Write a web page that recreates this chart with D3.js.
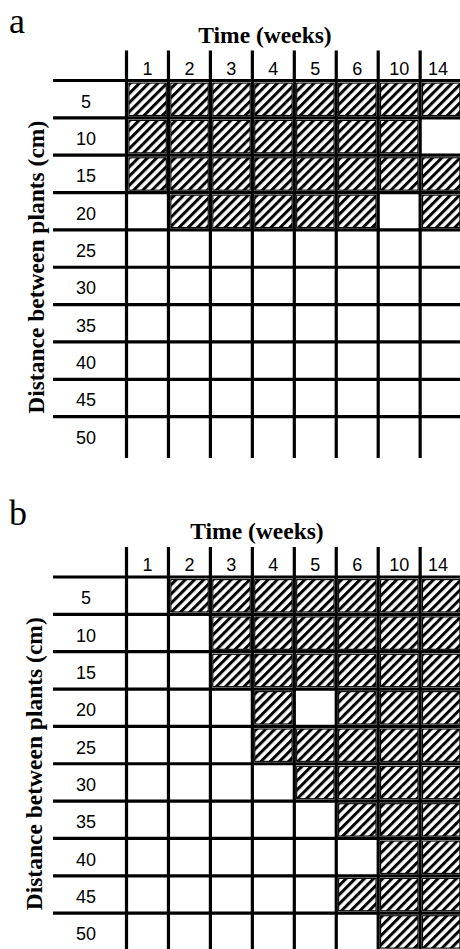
<!DOCTYPE html>
<html>
<head>
<meta charset="utf-8">
<script src="https://cdn.jsdelivr.net/npm/d3@7"></script>
<style>
  html, body { margin: 0; padding: 0; background: #fff; }
  svg { display: block; }
</style>
</head>
<body>
<div id="chart"></div>
<script>
// categories
const weeks = ["1", "2", "3", "4", "5", "6", "10", "14"];
const distances = [5, 10, 15, 20, 25, 30, 35, 40, 45, 50];

// 1 = hatched cell, one row per distance, one column per week
const hatchA = [
  [1, 1, 1, 1, 1, 1, 1, 1],
  [1, 1, 1, 1, 1, 1, 1, 0],
  [1, 1, 1, 1, 1, 1, 1, 1],
  [0, 1, 1, 1, 1, 1, 0, 1],
  [0, 0, 0, 0, 0, 0, 0, 0],
  [0, 0, 0, 0, 0, 0, 0, 0],
  [0, 0, 0, 0, 0, 0, 0, 0],
  [0, 0, 0, 0, 0, 0, 0, 0],
  [0, 0, 0, 0, 0, 0, 0, 0],
  [0, 0, 0, 0, 0, 0, 0, 0]
];
const hatchB = [
  [0, 1, 1, 1, 1, 1, 1, 1],
  [0, 0, 1, 1, 1, 1, 1, 1],
  [0, 0, 1, 1, 1, 1, 1, 1],
  [0, 0, 0, 1, 0, 1, 1, 1],
  [0, 0, 0, 1, 1, 1, 1, 1],
  [0, 0, 0, 0, 1, 1, 1, 1],
  [0, 0, 0, 0, 0, 1, 1, 1],
  [0, 0, 0, 0, 0, 0, 1, 1],
  [0, 0, 0, 0, 0, 1, 1, 1],
  [0, 0, 0, 0, 0, 0, 1, 1]
];

const xTitle = "Time (weeks)";
const yTitle = "Distance between plants (cm)";

const width = 460, height = 949;

const svg = d3.select("#chart").append("svg")
  .attr("width", width)
  .attr("height", height);

// diagonal hatch pattern
svg.append("defs").append("pattern")
  .attr("id", "hatch")
  .attr("patternUnits", "userSpaceOnUse")
  .attr("width", 6.5)
  .attr("height", 6.5)
  .attr("patternTransform", "rotate(45)")
  .append("rect")
  .attr("width", 3)
  .attr("height", 6.5)
  .attr("fill", "#000");

// columns share the same x positions in both panels
const x = d3.scaleBand()
  .domain(weeks)
  .range([126.5, 126.5 + weeks.length * 41.95]);

function drawPanel(letter, hatch, opts) {
  const g = svg.append("g").classed("panel", true);

  const y = d3.scaleBand()
    .domain(distances)
    .range([opts.top, opts.top + distances.length * 37.35]);

  const cells = [];
  distances.forEach((d, i) => weeks.forEach((w, j) => {
    if (hatch[i][j]) cells.push({d, w});
  }));

  // hatched cells
  g.selectAll("rect.cell")
    .data(cells)
    .join("rect")
    .classed("cell", true)
    .attr("x", c => x(c.w) + 2.4)
    .attr("y", c => y(c.d) + 2.6)
    .attr("width", x.bandwidth() - 4.6)
    .attr("height", y.bandwidth() - 5)
    .attr("fill", "url(#hatch)")
    .attr("stroke", "#000")
    .attr("stroke-width", 1.1);

  // vertical grid lines
  g.selectAll("line.v")
    .data(weeks.concat(["end"]))
    .join("line")
    .classed("v", true)
    .attr("x1", w => w === "end" ? x.range()[1] : x(w))
    .attr("x2", w => w === "end" ? x.range()[1] : x(w))
    .attr("y1", opts.top - 30)
    .attr("y2", opts.bottom)
    .attr("stroke", "#000")
    .attr("stroke-width", 3.2);

  // horizontal grid lines
  g.selectAll("line.h")
    .data(distances)
    .join("line")
    .classed("h", true)
    .attr("x1", 53)
    .attr("x2", width)
    .attr("y1", d => y(d))
    .attr("y2", d => y(d))
    .attr("stroke", "#000")
    .attr("stroke-width", 3.2);

  // column labels
  g.selectAll("text.week")
    .data(weeks)
    .join("text")
    .classed("week", true)
    .attr("x", w => x(w) + x.bandwidth() / 2 - (w === "14" ? 3 : 0))
    .attr("y", opts.top - 6)
    .attr("text-anchor", "middle")
    .style("font-family", "'Liberation Sans', Arial, sans-serif")
    .style("font-size", "18px")
    .text(w => w);

  // row labels
  g.selectAll("text.dist")
    .data(distances)
    .join("text")
    .classed("dist", true)
    .attr("x", 86)
    .attr("y", d => y(d) + y.bandwidth() / 2 + 8.5)
    .attr("text-anchor", "middle")
    .style("font-family", "'Liberation Sans', Arial, sans-serif")
    .style("font-size", "18px")
    .text(d => d);

  // panel letter
  g.append("text")
    .attr("x", 9)
    .attr("y", opts.letterY)
    .style("font-family", "'Liberation Serif', 'Times New Roman', serif")
    .style("font-size", "36px")
    .text(letter);

  // x title
  g.append("text")
    .attr("x", opts.titleX)
    .attr("y", opts.top - 38)
    .attr("text-anchor", "middle")
    .style("font-family", "'Liberation Serif', 'Times New Roman', serif")
    .style("font-weight", "bold")
    .style("font-size", "23.5px")
    .text(xTitle);

  // y title
  const yc = (y.range()[0] + y.range()[1]) / 2;
  g.append("text")
    .attr("transform", `translate(${opts.yTitleX},${yc}) rotate(-90)`)
    .attr("text-anchor", "middle")
    .style("font-family", "'Liberation Serif', 'Times New Roman', serif")
    .style("font-weight", "bold")
    .style("font-size", "23.5px")
    .text(yTitle);
}

drawPanel("a", hatchA, {top: 80.5, bottom: 458, letterY: 33, titleX: 265, yTitleX: 44});
drawPanel("b", hatchB, {top: 577, bottom: 949, letterY: 525, titleX: 257, yTitleX: 42});
</script>
</body>
</html>
